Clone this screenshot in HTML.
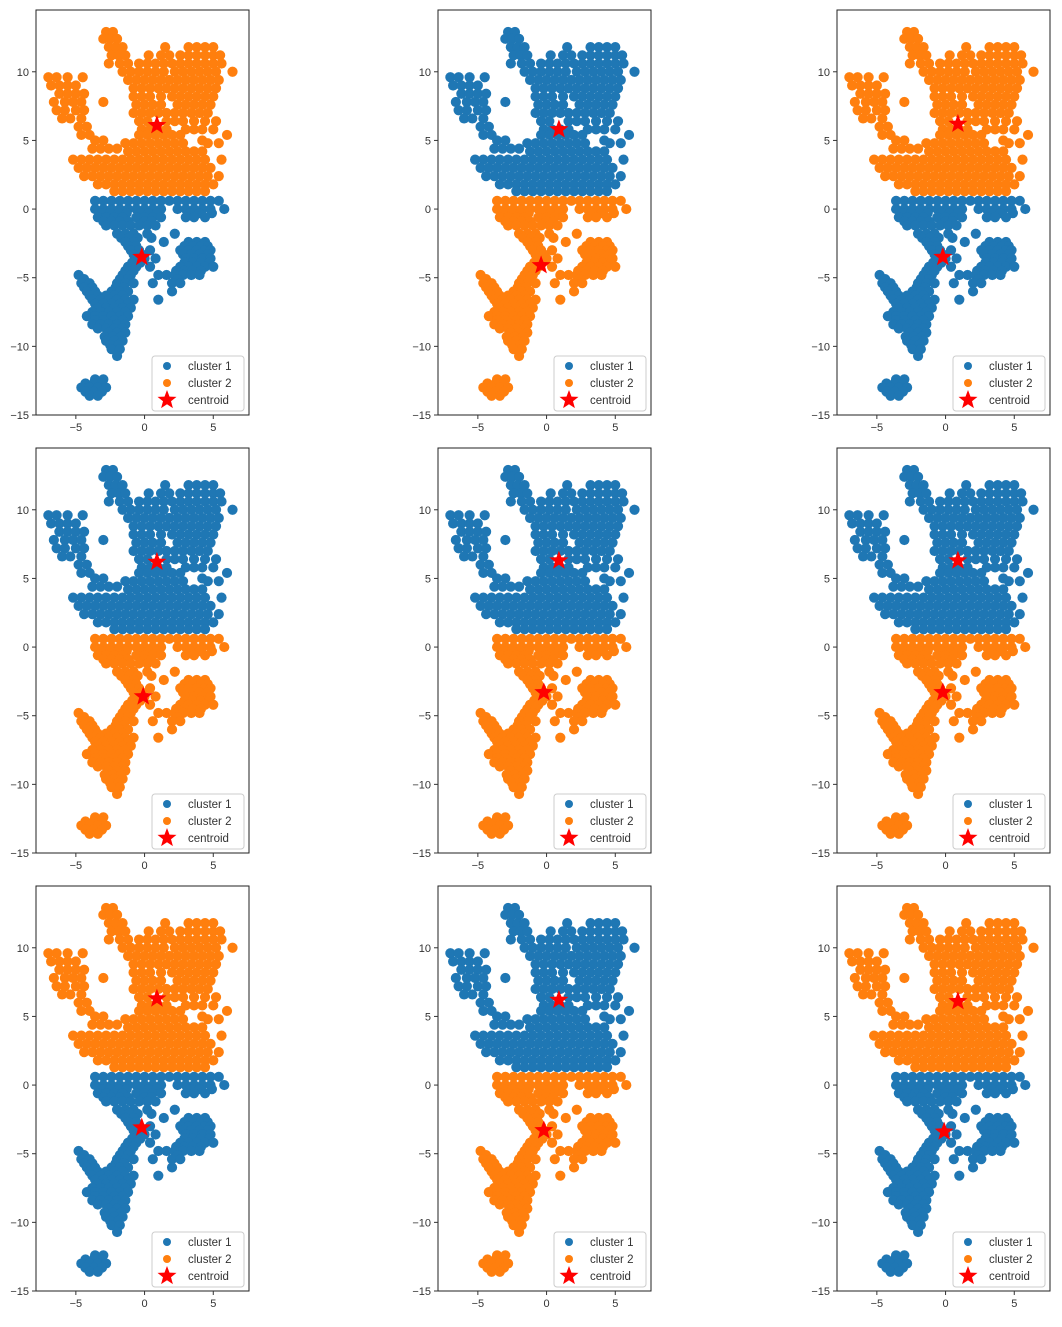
<!DOCTYPE html>
<html><head><meta charset="utf-8">
<style>
body{margin:0;background:#fff;}
svg text{font-family:"Liberation Sans","DejaVu Sans",sans-serif;fill:#333;}
</style></head>
<body>
<svg id="chart" width="1062" height="1322" xmlns="http://www.w3.org/2000/svg"></svg>
<script>
// Shared scatter data: each row = [y, [x values]]
const pointRows = [
[12.9,[-2.8,-2.3]],
[12.4,[-3.0,-2.5,-2.0]],
[11.8,[-2.6,-2.1,-1.6,1.5,3.2,3.8,4.4,5.0]],
[11.2,[-2.4,-1.9,-1.4,0.3,1.2,1.8,2.6,3.2,3.8,4.4,5.0,5.5]],
[10.6,[-2.6,-1.8,-1.2,-0.4,0.2,0.8,1.4,2.0,2.6,3.2,3.8,4.4,5.0,5.6]],
[10.0,[-1.6,-1.0,-0.4,0.2,0.8,1.4,2.2,2.8,3.4,4.0,4.6,5.2,6.4]],
[9.6,[-7.0,-6.4,-5.6,-4.5]],
[9.4,[-1.2,-0.6,0,0.6,1.2,1.8,2.4,3.0,3.6,4.2,4.8,5.4]],
[9.0,[-6.8,-6.2,-5.6,-5.0]],
[8.8,[-0.8,-0.2,0.4,1.0,1.6,2.2,2.8,3.4,4.0,4.6,5.2]],
[8.4,[-6.2,-5.6,-5.0,-4.4]],
[8.2,[-0.8,-0.2,0.4,1.2,2.0,2.6,3.2,3.8,4.4,5.0]],
[7.8,[-6.6,-5.8,-5.2,-4.6,-3.0]],
[7.6,[-0.6,0,0.6,1.2,2.4,3.0,3.6,4.2,4.8]],
[7.2,[-6.4,-5.8,-5.0,-4.4]],
[7.0,[-0.8,-0.2,0.4,1.0,1.6,2.2,2.8,3.4,4.0,4.6]],
[6.6,[-6.0,-5.4,-4.6]],
[6.4,[-0.4,0.2,1.6,2.2,2.8,3.6,4.4,5.2]],
[6.0,[-4.8,-4.2]],
[5.8,[-0.2,0.4,1.0,1.6,3.0,3.6,4.2,5.0]],
[5.4,[-4.6,-4.0,-0.4,0.2,0.8,1.4,2.0,2.6,6.0]],
[5.0,[-3.6,-3.0,4.2]],
[4.8,[-1.4,-0.8,-0.2,0.4,1.0,1.6,2.2,2.8,4.6,5.4]],
[4.4,[-3.8,-3.2,-2.6,-2.0]],
[4.2,[-1.2,-0.6,0,0.6,1.2,1.8,2.4,3.0,3.6,4.2]],
[3.6,[-5.2,-4.6,-4.0,-3.4,-2.8,-2.2,-1.6,-1.0,-0.4,0.2,0.8,1.4,2.0,2.6,3.2,3.8,4.4,5.6]],
[3.0,[-4.8,-4.2,-3.6,-3.0,-2.4,-1.8,-1.2,-0.6,0,0.6,1.2,1.8,2.4,3.0,3.6,4.2,4.8]],
[2.4,[-4.4,-3.8,-3.2,-2.6,-2.0,-1.4,-0.8,-0.2,0.4,1.0,1.6,2.2,2.8,3.4,4.0,4.6,5.4]],
[1.8,[-3.4,-2.8,-2.2,-1.6,-1.0,-0.4,0.2,0.8,1.4,2.0,2.6,3.2,3.8,4.4,5.0]],
[1.3,[-2.2,-1.6,-1.0,-0.4,0.2,0.8,1.4,2.0,2.6,3.2,3.8,4.4]],
[0.6,[-3.6,-3.0,-2.4,-1.8,-1.2,-0.6,0,0.6,1.2,1.8,2.4,3.0,3.6,4.2,4.8,5.4]],
[0.0,[-3.6,-3.0,-2.4,-1.8,-1.2,-0.6,0,0.6,1.2,2.4,3.0,3.6,4.2,4.8,5.8]],
[-0.3,[-3.1,-2.5,-1.9,-1.3,-0.3,0.3,0.9,3.3,4.0,4.9]],
[-0.6,[-3.4,-2.8,-2.2,-1.6,-0.6,0,0.6,1.2,3.0,3.6,4.4]],
[-0.9,[-3.0,-2.4,-1.8,-1.2,0.0,0.5]],
[-1.2,[-2.8,-2.2,-1.6,-1.0,-0.4,0.2,0.8]],
[-1.8,[-2.0,-1.4,-0.8,0.2,2.2]],
[-2.1,[-1.7,-1.1,-0.5,0.5]],
[-2.4,[-1.4,-0.8,1.4,3.2,3.8,4.4]],
[-2.7,[-1.2,-0.6,2.9,3.5,4.1,4.6]],
[-3.0,[-1.0,-0.4,0.4,2.6,3.2,3.8,4.4,4.8]],
[-3.3,[-0.8,-0.2,2.8,3.4,4.0,4.6]],
[-3.6,[-0.6,0,0.8,3.0,3.6,4.2,4.8]],
[-3.9,[-0.9,-0.3,2.9,3.5,4.1,4.7]],
[-4.2,[-1.2,-0.6,0.4,2.6,3.2,3.8,4.4,5.0]],
[-4.5,[-1.4,-0.8,2.3,2.9,3.5,4.1]],
[-4.8,[-4.8,-1.6,-1.0,1.0,1.6,2.2,2.8,3.4,4.0]],
[-5.1,[-4.4,-1.8,-1.2,2.4]],
[-5.4,[-4.6,-4.0,-2.0,-1.4,-0.8,0.6,2.0,2.6]],
[-5.7,[-4.4,-3.8,-2.1,-1.5]],
[-6.0,[-4.2,-3.6,-2.4,-1.8,-1.2,2.0]],
[-6.3,[-4.0,-3.4,-2.8,-2.2,-1.6]],
[-6.6,[-3.8,-3.2,-2.6,-2.0,-1.4,-0.8,1.0]],
[-6.9,[-3.6,-3.0,-2.4,-1.8,-1.2]],
[-7.2,[-3.4,-2.8,-2.2,-1.6,-1.0]],
[-7.5,[-3.8,-3.2,-2.6,-2.0,-1.4]],
[-7.8,[-4.2,-3.6,-3.0,-2.4,-1.8,-1.2]],
[-8.1,[-3.6,-3.0,-2.2,-1.6]],
[-8.4,[-3.8,-3.2,-2.6,-2.0,-1.4]],
[-8.7,[-3.4,-2.8,-2.2,-1.6]],
[-9.0,[-2.6,-2.0,-1.4]],
[-9.3,[-2.9,-2.3,-1.7]],
[-9.6,[-2.8,-2.2,-1.6]],
[-9.9,[-2.5,-1.9]],
[-10.2,[-2.4,-1.8]],
[-10.7,[-2.0]],
[-12.4,[-3.6,-3.0]],
[-12.7,[-4.3,-3.7,-3.1]],
[-13.0,[-4.6,-4.0,-3.4,-2.8]],
[-13.3,[-4.3,-3.7,-3.1]],
[-13.6,[-4.0,-3.4]]
];
// per panel: which cluster is on top ("orange" or "blue")
const panelTopColor = ["orange","blue","orange","blue","blue","blue","orange","blue","orange"];
const splitY = [1,1,1,1,1,1,1,1,1];
const centroidsA = [[0.9,6.1],[0.9,5.8],[0.9,6.2],[0.9,6.2],[0.9,6.3],[0.9,6.3],[0.9,6.3],[0.9,6.2],[0.9,6.1]];
const centroidsB = [[-0.2,-3.5],[-0.4,-4.1],[-0.2,-3.5],[-0.1,-3.6],[-0.2,-3.3],[-0.2,-3.3],[-0.2,-3.1],[-0.2,-3.3],[-0.1,-3.4]];
const xTicks = [-5,0,5];
const yTicks = [10,5,0,-5,-10,-15];
const xDomain = [-7.9,7.6];
const yDomain = [-15,14.5];

const NS="http://www.w3.org/2000/svg";
const svg=document.getElementById('chart');
const BLUE="#1f77b4", ORANGE="#ff7f0e";
const lefts=[36,438,837], tops=[10,448,886];
const W=213, H=405;
function mk(tag,attrs,parent){const e=document.createElementNS(NS,tag);for(const k in attrs)e.setAttribute(k,attrs[k]);parent.appendChild(e);return e;}
function starPts(cx,cy,R){const r=R*0.42;let p=[];for(let i=0;i<10;i++){const a=-Math.PI/2+i*Math.PI/5;const rr=i%2?r:R;p.push((cx+rr*Math.cos(a)).toFixed(1)+","+(cy+rr*Math.sin(a)).toFixed(1));}return p.join(" ");}

for(let p=0;p<9;p++){
  const L=lefts[p%3], T=tops[Math.floor(p/3)];
  const sx=v=>L+(v-xDomain[0])/(xDomain[1]-xDomain[0])*W;
  const sy=v=>T+(yDomain[1]-v)/(yDomain[1]-yDomain[0])*H;
  const g=mk('g',{},svg);
  
  
  const topC = panelTopColor[p]==="orange"?ORANGE:BLUE;
  const botC = panelTopColor[p]==="orange"?BLUE:ORANGE;
  for(const row of pointRows){
    for(const x of row[1]){
      const c=mk('circle',{cx:sx(x),cy:sy(row[0]),r:5.1,fill:row[0]>splitY[p]?topC:botC},g);
      
      
    }
  }
  for(const c of [centroidsA[p],centroidsB[p]]){
    const s=mk('polygon',{points:starPts(sx(c[0]),sy(c[1]),10),fill:"#ff0000"},g);
    
    
  }
  const fr=mk('rect',{x:L,y:T,width:W,height:H,fill:"none",stroke:"#222","stroke-width":1},g);
  
  
  for(const t of xTicks){
    const x=sx(t);
    mk('line',{x1:x,x2:x,y1:T+H,y2:T+H+4,stroke:"#333"},g);
    const tx=mk('text',{x:x,y:T+H+16,"font-size":11,"text-anchor":"middle"},g);
    tx.textContent=(t<0?"\u2212"+(-t):t);
    
    
  }
  for(const t of yTicks){
    const y=sy(t);
    mk('line',{x1:L-4,x2:L,y1:y,y2:y,stroke:"#333"},g);
    const tx=mk('text',{x:L-7,y:y+4,"font-size":11,"text-anchor":"end"},g);
    tx.textContent=(t<0?"\u2212"+(-t):t);
    
    
  }
  const lg=mk('g',{},g);
  
  
  const lx=L+W-97, ly=T+H-59;
  mk('rect',{x:lx,y:ly,width:92,height:55,rx:3,fill:"#fff","fill-opacity":0.85,stroke:"#ccc"},lg);
  const ent=[["cluster 1",BLUE],["cluster 2",ORANGE],["centroid","star"]];
  ent.forEach((e,i)=>{
    const cy=ly+10+i*17;
    if(e[1]==="star") mk('polygon',{points:starPts(lx+15,cy,10),fill:"#ff0000"},lg);
    else mk('circle',{cx:lx+15,cy:cy,r:4,fill:e[1]},lg);
    const t=mk('text',{x:lx+36,y:cy+4,"font-size":11.5},lg);
    t.textContent=e[0];
    
    
  });
}
</script>
</body></html>
